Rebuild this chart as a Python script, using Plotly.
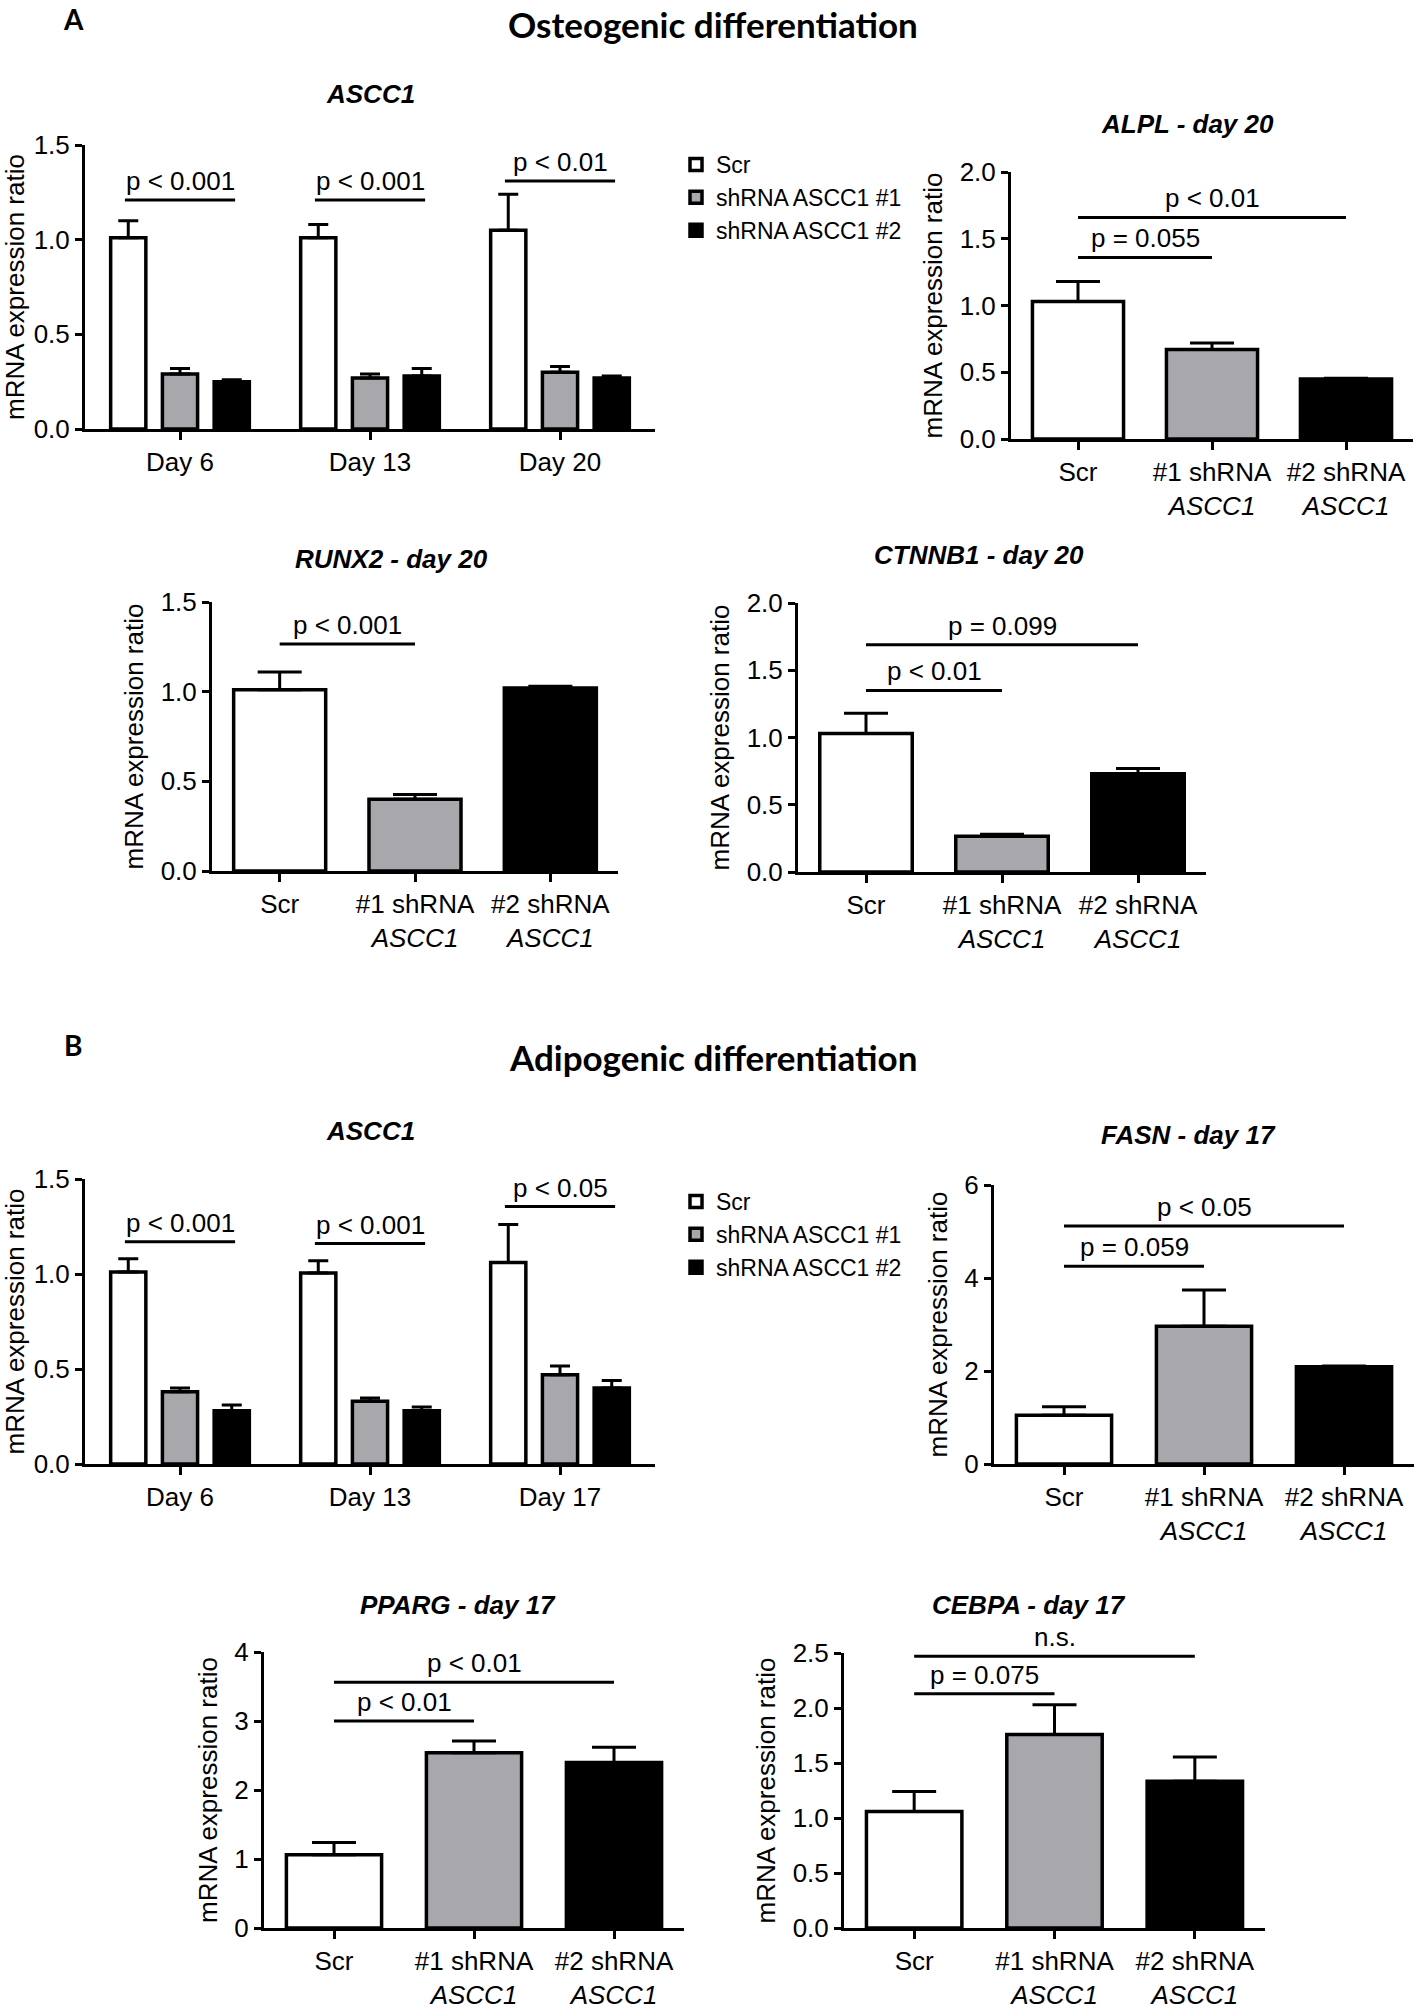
import plotly.graph_objects as go

W, H = 1417, 2016

groups = ["Scr", "shRNA ASCC1 #1", "shRNA ASCC1 #2"]
bar_colors = ["white", "#a7a7ac", "black"]
cond_labels = ["Scr", "#1 shRNA<br><i>ASCC1</i>", "#2 shRNA<br><i>ASCC1</i>"]
days_osteo = ["Day 6", "Day 13", "Day 20"]
days_adipo = ["Day 6", "Day 13", "Day 17"]

# A - osteogenic differentiation, ASCC1 time course (mean and upper error)
osteo_scr = [1.01, 1.01, 1.05]
osteo_scr_err = [0.09, 0.07, 0.19]
osteo_sh1 = [0.29, 0.27, 0.30]
osteo_sh1_err = [0.03, 0.02, 0.03]
osteo_sh2 = [0.25, 0.28, 0.27]
osteo_sh2_err = [0.01, 0.04, 0.01]

alpl = [1.03, 0.67, 0.45]
alpl_err = [0.15, 0.05, 0.005]
runx2 = [1.01, 0.40, 1.02]
runx2_err = [0.10, 0.027, 0.01]
ctnnb1 = [1.03, 0.265, 0.73]
ctnnb1_err = [0.15, 0.015, 0.04]

# B - adipogenic differentiation
adipo_scr = [1.01, 1.005, 1.06]
adipo_scr_err = [0.07, 0.065, 0.20]
adipo_sh1 = [0.38, 0.33, 0.47]
adipo_sh1_err = [0.02, 0.017, 0.046]
adipo_sh2 = [0.28, 0.28, 0.40]
adipo_sh2_err = [0.03, 0.02, 0.04]

fasn = [1.05, 2.96, 2.09]
fasn_err = [0.18, 0.78, 0.02]
pparg = [1.06, 2.54, 2.40]
pparg_err = [0.18, 0.17, 0.22]
cebpa = [1.06, 1.76, 1.335]
cebpa_err = [0.18, 0.27, 0.22]

# significance brackets: (from, to, height, label)
osteo_sig = [(-0.29, 0.29, 1.21, "p < 0.001"), (0.71, 1.29, 1.21, "p < 0.001"),
             (1.71, 2.29, 1.31, "p < 0.01")]
alpl_sig = [(0, 1, 1.36, "p = 0.055"), (0, 2, 1.66, "p < 0.01")]
runx2_sig = [(0, 1, 1.266, "p < 0.001")]
ctnnb1_sig = [(0, 1, 1.35, "p < 0.01"), (0, 2, 1.69, "p = 0.099")]
adipo_sig = [(-0.29, 0.29, 1.17, "p < 0.001"), (0.71, 1.29, 1.16, "p < 0.001"),
             (1.71, 2.29, 1.355, "p < 0.05")]
fasn_sig = [(0, 1, 4.25, "p = 0.059"), (0, 2, 5.12, "p < 0.05")]
pparg_sig = [(0, 1, 3.0, "p < 0.01"), (0, 2, 3.56, "p < 0.01")]
cebpa_sig = [(0, 1, 2.13, "p = 0.075"), (0, 2, 2.47, "n.s.")]

FONT = "Liberation Sans, Arial, sans-serif"
TITLE_FONT = "Lato, Open Sans, sans-serif"
TXT = dict(family=FONT, size=26, color="black")

fig = go.Figure()
layout_axes = {}
annotations = []
shapes = []


def ax_names(n):
    s = "" if n == 1 else str(n)
    return "x" + s, "y" + s


def add_axes(n, xpx, ypx, ymax, dtick, fmt, ticktext):
    xn, yn = ax_names(n)
    layout_axes["xaxis" + xn[1:]] = dict(
        domain=[xpx[0] / W, xpx[1] / W], anchor=yn, range=[-0.5, 2.5],
        tickvals=[0, 1, 2], ticktext=ticktext, tickfont=TXT,
        showline=True, linecolor="black", linewidth=3,
        ticks="outside", ticklen=8, tickwidth=3, tickcolor="black",
        showgrid=False, zeroline=False, fixedrange=True, automargin=False)
    layout_axes["yaxis" + yn[1:]] = dict(
        domain=[1 - ypx[1] / H, 1 - ypx[0] / H], anchor=xn, range=[0, ymax],
        dtick=dtick, tickformat=fmt, tickfont=TXT,
        showline=True, linecolor="black", linewidth=3,
        ticks="outside", ticklen=7, tickwidth=3, tickcolor="black",
        showgrid=False, zeroline=False, fixedrange=True, automargin=False,
        title=dict(text="mRNA expression ratio", font=TXT, standoff=10))


def add_brackets(n, sig):
    xn, yn = ax_names(n)
    for a, b, h, label in sig:
        shapes.append(dict(type="line", xref=xn, yref=yn, x0=a, x1=b, y0=h, y1=h,
                           line=dict(color="black", width=3)))
        annotations.append(dict(xref=xn, yref=yn, x=(a + b) / 2, y=h, text=label,
                                showarrow=False, yanchor="bottom", yshift=2, font=TXT))


def add_grouped(n, series, legend):
    xn, yn = ax_names(n)
    for name, color, vals, errs in series:
        fig.add_trace(go.Bar(
            x=list(range(len(vals))), y=vals, name=name, legend=legend,
            marker=dict(color=color, line=dict(color="black", width=3.5)),
            error_y=dict(type="data", array=errs, arrayminus=[0] * len(errs),
                         symmetric=False, color="black", thickness=3, width=10),
            xaxis=xn, yaxis=yn))


def add_single(n, vals, errs):
    xn, yn = ax_names(n)
    fig.add_trace(go.Bar(
        x=[0, 1, 2], y=vals, width=0.68, showlegend=False,
        marker=dict(color=bar_colors, line=dict(color="black", width=3.5)),
        error_y=dict(type="data", array=errs, arrayminus=[0, 0, 0], symmetric=False,
                     color="black", thickness=3, width=22),
        xaxis=xn, yaxis=yn))


def panel_title(text, x, y):
    annotations.append(dict(xref="paper", yref="paper", x=x / W, y=1 - y / H,
                            xanchor="center", yanchor="middle",
                            text="<b><i>%s</i></b>" % text, showarrow=False,
                            font=dict(family=FONT, size=26, color="black")))


# ---- A: osteogenic ----
add_grouped(1, [(groups[0], bar_colors[0], osteo_scr, osteo_scr_err),
                (groups[1], bar_colors[1], osteo_sh1, osteo_sh1_err),
                (groups[2], bar_colors[2], osteo_sh2, osteo_sh2_err)], "legend")
add_axes(1, (85, 655), (145, 429), 1.5, 0.5, ".1f", days_osteo)
add_brackets(1, osteo_sig)
panel_title("ASCC1", 370, 94)

add_single(2, alpl, alpl_err)
add_axes(2, (1011, 1413), (172, 439), 2.0, 0.5, ".1f", cond_labels)
add_brackets(2, alpl_sig)
panel_title("ALPL - day 20", 1187, 124)

add_single(3, runx2, runx2_err)
add_axes(3, (212, 618), (602, 871), 1.5, 0.5, ".1f", cond_labels)
add_brackets(3, runx2_sig)
panel_title("RUNX2 - day 20", 391, 559)

add_single(4, ctnnb1, ctnnb1_err)
add_axes(4, (798, 1206), (603, 872), 2.0, 0.5, ".1f", cond_labels)
add_brackets(4, ctnnb1_sig)
panel_title("CTNNB1 - day 20", 979, 555)

# ---- B: adipogenic ----
add_grouped(5, [(groups[0], bar_colors[0], adipo_scr, adipo_scr_err),
                (groups[1], bar_colors[1], adipo_sh1, adipo_sh1_err),
                (groups[2], bar_colors[2], adipo_sh2, adipo_sh2_err)], "legend2")
add_axes(5, (85, 655), (1179, 1464), 1.5, 0.5, ".1f", days_adipo)
add_brackets(5, adipo_sig)
panel_title("ASCC1", 370, 1131)

add_single(6, fasn, fasn_err)
add_axes(6, (994, 1414), (1185, 1464), 6, 2, "d", cond_labels)
add_brackets(6, fasn_sig)
panel_title("FASN - day 17", 1188, 1135)

add_single(7, pparg, pparg_err)
add_axes(7, (264, 684), (1652, 1928), 4, 1, "d", cond_labels)
add_brackets(7, pparg_sig)
panel_title("PPARG - day 17", 458, 1605)

add_single(8, cebpa, cebpa_err)
add_axes(8, (844, 1265), (1653, 1928), 2.5, 0.5, ".1f", cond_labels)
add_brackets(8, cebpa_sig)
panel_title("CEBPA - day 17", 1029, 1605)

# section headers and panel letters
for text, y in [("Osteogenic differentiation", 24), ("Adipogenic differentiation", 1057)]:
    annotations.append(dict(xref="paper", yref="paper", x=713 / W, y=1 - y / H,
                            xanchor="center", yanchor="middle",
                            text="<b>%s</b>" % text, showarrow=False,
                            font=dict(family=TITLE_FONT, size=35, color="black")))
for text, y in [("A", 19), ("B", 1045)]:
    annotations.append(dict(xref="paper", yref="paper", x=73 / W, y=1 - y / H,
                            xanchor="center", yanchor="middle",
                            text="<b>%s</b>" % text, showarrow=False,
                            font=dict(family=TITLE_FONT, size=28, color="black")))

legend_style = dict(xanchor="left", yanchor="top", bgcolor="rgba(0,0,0,0)",
                    font=dict(family=FONT, size=23, color="black"))

fig.update_layout(
    width=W, height=H,
    margin=dict(l=0, r=0, t=0, b=0, autoexpand=False),
    paper_bgcolor="white", plot_bgcolor="white",
    barmode="group", bargap=0.183, bargroupgap=0.32,
    legend=dict(x=676 / W, y=1 - 143 / H, **legend_style),
    legend2=dict(x=676 / W, y=1 - 1180 / H, **legend_style),
    annotations=annotations, shapes=shapes,
    **layout_axes)

# the page body has a default 8px margin; drop it so the figure fills the window
fig.write_html("out.html", config={"displayModeBar": False},
               post_script="document.body.style.margin = '0';")
